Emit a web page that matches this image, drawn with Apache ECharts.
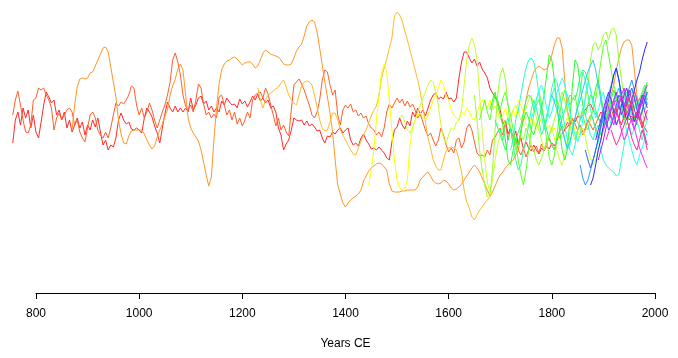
<!DOCTYPE html>
<html><head><meta charset="utf-8">
<script src="https://cdn.jsdelivr.net/npm/echarts@6/dist/echarts.min.js"></script>
<style>html,body{margin:0;padding:0;background:#fff}#c{width:678px;height:358px}</style>
</head><body><div id="c"></div>
<script>
// Years CE axis
const xTicks = [800, 1000, 1200, 1400, 1600, 1800, 2000];
const STEP = 5; // years between readings

// Each record: start year + values every 5 years (arbitrary index units)
const redStart = 755;
const redValues = [7,30,38,25,42,32,40,22,35,18, 12,28,45,58,53,47,50,35,40,30, 38,22,30,18,25,32,22,28,15,25, 20,30,23,32,18,5,10,0,5,3, 12,30,37,30,26,28,21,20,22,20, 17,32,42,38,33,24,17,7,22,36, 48,42,38,44,38,42,38,42,38,52, 40,45,52,54,46,49,40,44,38,42, 38,49,45,52,48,45,46,42,51,46, 49,43,48,54,50,56,49,52,47,50, 42,44,38,22,15,0,6,10,20,32, 30,29,30,25,29,24,26,23,19,20, 12,7,14,13,18,16,20,22,17,20, 22,10,5,7,4,12,16,10,6,1, 2,0,3,0,-3,-8,-10,8,20,23, 32,25,21,29,24,38,33,42,36,40, 34,42,50,55,57,51,53,51,58,51, 52,48,52,72,88,98,98,92,87,91, 84,88,81,77,72,62,57,53,48,40, 26,30,16,22,11,19,6,12,1,8, 2,-1,5,0,-4,2,-1,4,1,7, 4,10,13,16,20,23,26,30,28,34, 32,38,40,44,46,40,36,32,38,34, 40,36,42,46,50,47,50,44,36,30, 34,28,38,32,28,22,18];

const orangeRedStart = 755;
const orangeRedValues = [35,50,59,45,30,18,17,25,50,52, 62,60,62,55,50,42,20,32,37,30, 35,40,42,38,25,30,18,12,8,22, 35,38,32,20,15,12,18,12,22,35, 47,44,48,46,50,55,64,62,45,35, 42,32,38,47,40,30,22,30,38,45, 55,68,90,97,88,75,55,44,40,45, 38,50,66,62,46,35,38,32,36,32, 53,55,45,35,40,30,38,26,32,24, 30,38,32,50,55,57,58,52,62,56, 45,35,24,32,20,25,18,14,40,65, 68,71,66,60,52,45,35,32,38,50, 70,80,78,65,55,60,35,25,40,45, 42,46,38,40,34,37,32,34,26,22, 20,15,18,13,22,38,46,42,47,52, 47,51,44,49,43,46,40,32,36,28, 20,14,17,10,4,10,22,15,5,-2, 2,-3,10,12,2,8,22,26,20,8, -3,-6,-5,-7,0,-5,10,13,18,22, 15,28,10,22,7,12,0,-5,2,-7, 0,5,-2,4,-3,6,0,7,12,5, 0,10,18,24,20,28,24,32,26,20, 25,18,22,30,25,20,26,32,28,35, 30,38,32,42,36,44,38,32,40,46, 40,50,44,52,46,54,50];

const orangeStart = 870;
const orangeValues = [20,45,63,71,72,71,72, 77,78,84,90,96,102,103,98,83,68, 53,30,16,7,6,14,19,20,20,20, 20,16,10,5,1,4,13,20,26,34, 40,55,64,71,81,86,80,56,32,22, 17,13,9,0,-12,-25,-36,-27,10,42, 66,80,86,89,90,92,93,91,88,85, 87,88,88,86,82,84,90,97,100,98, 96,95,94,93,90,86,85,85,86,92, 99,103,106,114,124,128,130,128,118,102, 85,68,53,37,18,-10,-35,-44,-53,-57, -53,-50,-48,-46,-44,-40,-31,-26,-21,-18, -16,-14,-13,-14,-17,-20,-34,-41,-42,-42, -42,-41,-41,-40,-40,-40,-40,-37,-30,-27, -24,-22,-26,-31,-33,-34,-33,-30,-31,-34, -38,-40,-39,-37,-34,-30,-26,-22,-18,-15, -18,-22,-28,-34,-40,-46,-42,-36,-30,-25, -22,-18,-15,-12,-10,-5,0,15,35,50, 62,70,78,82,84,82,80,81,86,95, 105,112,112,102,70,40,30,25,32,28, 22,15,20,28,35,30,22,15,10,20, 32,45,55,65,80,92,102,108,110,110, 105,80,55,40,50,58,50];

const amberStart = 1230;
const amberValues = [62,50,42,50,55, 57,59,61,63,67,70,63,55,50,47, 45,55,64,68,69,68,65,55,43,30, 22,19,20,28,37,37,30,20,15,10, 5,0,-4,-5,2,9,15,20,27,34, 40,44,55,72,82,91,102,112,134,138, 135,129,119,110,100,90,80,70,58,42, 28,12,2,-10,-16,-20,-20,-10,-1,2, 3,2,0,-10,-22,-40,-52,-58,-67,-70, -65,-60,-57,-53,-50,-47,-42];

const yellowStart = 1445;
const yellowValues = [-35,-20,0,30,55,78,86,78,50,20,-10,-30, -38,-40,-38,-30,5,22,30,35,37,32, 30,35,42,50,55,62,70,65,55,50, 40,35,32,30,38,35,42,38,32,30, 38,45,50,46,42,50,40,44,38,30, 35,42,30,35,40,32,50,45,38,25, 22,32,28,20,25,32,28,22,25,18, 22,15,10,18,25,32,35,28,20,15,22,20];

const limeStart = 1505;
const limeValues = [32,35,28,20,17,22,30,38,45,52, 58,65,70,68,58,45,25,12,7,15, 22,20,28,30,40,65,90,105,112,105, 90,55,20,-10,-32,-43,-30,-10,5,15, 22,30,25,32,40,45,38,30,35,42,50,55, 45,32,20,10,0,5,15,22,12,0,-10,-15, -5,10,20,25,15,10,18,22,12,0,-8,-15,-10,0];

const g90Start = 1650;
const g90Values = [55,30,0,-20,-35,-47,-45,-20,20,55,75, 82,70,45,20,10,0,8,15,10,22, 15,5,0,-10,-15,-8,0,10,15,22, 30,40,50,58,50,38,25,18,10,20, 30,38,50,65,90,105,108,100,105,115, 118,110,120,122,115,90,70,55,62,50, 58,40,45,32,40,28,35];

const g105Start = 1660;
const g105Values = [30,40,50,38,30,45,55,50,40, 52,58,45,35,20,5,-10,-25,-35,-20, 0,20,35,50,60,45,30,10,-8,-15, -5,15,35,50,60,55,45,50,55,40, 30,35,25,20,32,40,50,70,88,105, 110,95,80,65,55,62,50,58,45,38, 50,55,42,50,58,65,55];

const g120Start = 1680;
const g120Values = [40,50,58,45,35, 25,10,-10,-15,0,12,5,20,30,38, 32,20,15,25,32,42,55,75,95,90, 70,45,20,0,-10,0,30,65,90,85, 65,45,35,45,55,50,62,70,55,40, 30,38,50,60,52,40,45,32,25,35, 42,32,25,40,50,60,68];

const g135Start = 1690;
const g135Values = [30,22,15, 8,0,10,20,15,10,18,25,38,50, 55,52,40,45,50,40,30,20,10,5, 0,10,20,32,40,48,55,52,50,60, 75,80,78,70,60,50,40,32,25,30, 32,38,45,50,55,52,50,45,40,35, 30,35,38,42,45,40,48];

const g150Start = 1700;
const g150Values = [20, 10,25,32,20,5,-10,-20,-15,0,10, 25,40,50,42,30,15,22,35,45,55, 62,50,38,25,10,0,5,20,32,45, 60,78,70,55,40,30,20,25,15,22, 32,42,50,38,25,32,40,50,58,45, 35,42,52,45,55,62,50];

const g165Start = 1720;
const g165Values = [0,10,30,40,55,70,82, 90,92,88,75,55,35,20,30,45,62, 72,68,55,40,25,10,0,-5,5,20, 30,42,35,25,15,10,20,10,0,-10, -15,-18,-20,-22,-26,-24,-10,5,20,25, 15,22,30,20,10,22,30];

const g180Start = 1760;
const g180Values = [30,40,50,60,65,55,42,32,38, 50,58,65,72,65,52,38,25,15,8, 15,30,55,68,60,45,32,40,50,58, 45,35,25,32,42,50,40,28,20,10, 0,-10,-15,-5,2,10,18];

const g195Start = 1800;
const g195Values = [55, 48,40,30,20,10,2,8,20,32,42, 50,60,70,78,85,90,80,65,50,35, 25,30,40,45,55,62,50,38,30,35, 45,52,42,32,40,50,58];

const b210Start = 1855;
const b210Values = [-15,-28,-35,-30,-20,-10,0,10,22,32, 45,55,65,75,82,70,55,45,52,62, 70,60,50,40,48,55,45];

const b225Start = 1865;
const b225Values = [0,-10,-18,-10,0,12,25,38, 30,20,25,35,45,55,50,40,48,55, 62,52,40,30,38,50,58];

const b240Start = 1875;
const b240Values = [-35,-28,-15,0,10,25, 40,50,62,75,82,70,55,40,30,38, 50,60,70,78,90,100,108];

const v255Start = 1885;
const v255Values = [10,20,30,40, 50,58,50,38,25,32,45,55,62,52, 40,28,35,45,55,50,42];

const v270Start = 1890;
const v270Values = [-10,0,10, 22,32,40,50,58,45,35,42,52,60, 50,40,32,42,50,38,30];

const v285Start = 1895;
const v285Values = [30,40, 50,42,32,25,35,45,55,62,50,38, 28,20,30,40,50,58,65];

const m300Start = 1900;
const m300Values = [20, 28,35,42,50,40,30,20,10,15,25, 32,22,12,2,-5,-12,-18];

const m315Start = 1905;
const m315Values = [10,18,25,32,40,48,55,45,35,42, 50,58,50,38,25,15,5];

const p330Start = 1915;
const p330Values = [20,12,5,10,18,25,32,22, 12,5,0,10,20,12,0];

const p345Start = 1925;
const p345Values = [40,32,25,35,45,52, 42,32,38,30,22,32,40];

const records = [
  [redStart, redValues, '#ff2a2a'],
  [orangeRedStart, orangeRedValues, '#ff5f2a'],
  [orangeStart, orangeValues, '#ff962a'],
  [amberStart, amberValues, '#ffbb2a'],
  [yellowStart, yellowValues, '#ffff00'],
  [limeStart, limeValues, '#ccff2a'],
  [g90Start, g90Values, '#99ff2a'],
  [g105Start, g105Values, '#5fff2a'],
  [g120Start, g120Values, '#2aff2a'],
  [g135Start, g135Values, '#2aff66'],
  [g150Start, g150Values, '#2aff99'],
  [g165Start, g165Values, '#2affcc'],
  [g180Start, g180Values, '#2affff'],
  [g195Start, g195Values, '#2accff'],
  [b210Start, b210Values, '#2a99ff'],
  [b225Start, b225Values, '#2a66ff'],
  [b240Start, b240Values, '#2a2aff'],
  [v255Start, v255Values, '#662aff'],
  [v270Start, v270Values, '#992aff'],
  [v285Start, v285Values, '#cc2aff'],
  [m300Start, m300Values, '#ff2aff'],
  [m315Start, m315Values, '#ff2acc'],
  [p330Start, p330Values, '#ff2a99'],
  [p345Start, p345Values, '#ff2a66']
];

const series = records.map(function (r) {
  return {
    type: 'line',
    xAxisIndex: 0,
    yAxisIndex: 0,
    data: r[1].map(function (v, i) { return [r[0] + i * STEP, v]; }),
    showSymbol: false,
    symbol: 'none',
    silent: true,
    lineStyle: { width: 1, color: r[2] },
    itemStyle: { color: r[2] }
  };
});

const FONT = 'Liberation Sans, Arial, sans-serif';
const chart = echarts.init(document.getElementById('c'), null, { renderer: 'canvas' });
chart.setOption({
  animation: false,
  backgroundColor: '#ffffff',
  grid: [
    // data area: extends left of 800 (year 740 at the left edge)
    { left: 5, right: 23, top: 0, bottom: 65, containLabel: false },
    // visible axis: spans 800..2000
    { left: 36, right: 23, top: 0, bottom: 65, containLabel: false }
  ],
  xAxis: [
    { gridIndex: 0, type: 'value', min: 740, max: 2000, show: false, splitLine: { show: false } },
    {
      gridIndex: 1,
      type: 'value',
      min: xTicks[0],
      max: xTicks[xTicks.length - 1],
      interval: 200,
      name: 'Years CE',
      nameLocation: 'middle',
      nameGap: 45,
      nameTextStyle: { color: '#000', fontSize: 12, fontFamily: FONT },
      axisLine: { show: true, onZero: false, lineStyle: { color: '#000', width: 1 } },
      axisTick: { show: true, length: 6, lineStyle: { color: '#000', width: 1 } },
      axisLabel: { color: '#000', fontSize: 12, margin: 15, fontFamily: FONT, formatter: function (v) { return String(v); } },
      splitLine: { show: false }
    }
  ],
  yAxis: [
    { gridIndex: 0, type: 'value', min: -143, max: 150, show: false, splitLine: { show: false } },
    { gridIndex: 1, type: 'value', min: -143, max: 150, show: false, splitLine: { show: false } }
  ],
  series: series
});
</script></body></html>
